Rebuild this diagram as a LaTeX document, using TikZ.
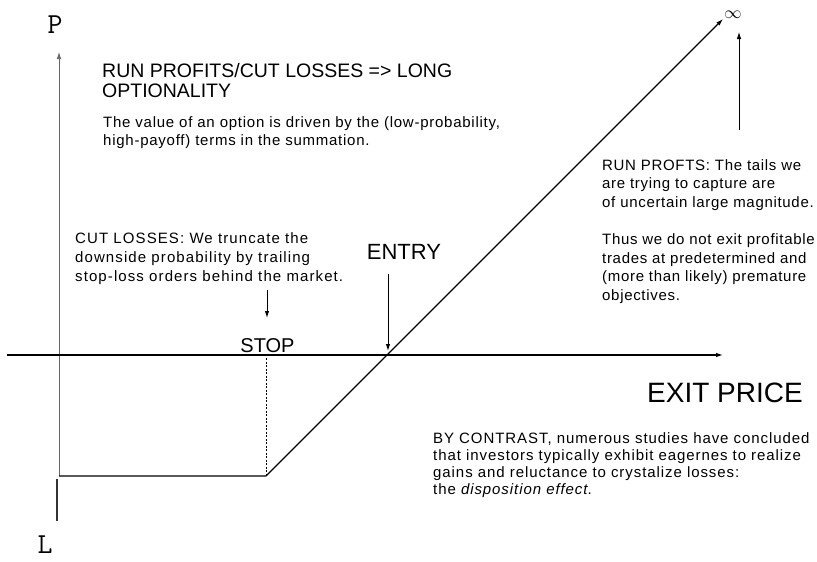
\documentclass[tikz,border=0pt]{standalone}
\usepackage{fontspec}
\setmainfont{Liberation Sans}
\usetikzlibrary{arrows.meta}
\begin{document}
\begin{tikzpicture}[x=1pt,y=-1pt,
  small/.style={anchor=north west, inner sep=0pt, align=left},
  head/.style={anchor=north west, inner sep=0pt, align=left, font=\fontsize{19.5}{20}\selectfont},
  big/.style={inner sep=0pt, anchor=base},
  axislbl/.style={inner sep=0pt, anchor=base, font=\ttfamily\fontsize{29}{29}\selectfont},
  tip/.style={-{Latex[length=7pt,width=4.5pt]}},
  payoff/.style={line width=1.1pt, line join=round}]
\useasboundingbox (0,0) rectangle (817,562);
% axes
\coordinate (ytop) at (59,52);
\coordinate (ybot) at (59,476);
\coordinate (ylow1) at (57,479);
\coordinate (ylow2) at (57,521);
\coordinate (xl) at (7,355);
\coordinate (xr) at (723,355);
\draw[tip, gray!80!black, line width=0.7pt] (ybot) -- (ytop);
\draw[line width=1.1pt, black!80] (ylow1) -- (ylow2);
\draw[tip, line width=1.1pt] (xl) -- (xr);
\node[axislbl] (P) at (55,33) {P};
\node[axislbl] (L) at (45,553) {L};
% payoff
\coordinate (floor0) at (59,476);
\coordinate (stopk) at (266,476);
\coordinate (stopax) at (266,358);
\coordinate (inf) at (723,19);
\draw[payoff, tip] (floor0) -- (stopk) -- (inf);
\draw[line width=0.8pt, dash pattern=on 2pt off 1.5pt] (stopax) -- (stopk);
\node[inner sep=0pt, anchor=base, font=\fontsize{18}{18}\selectfont] (infty) at (733,19) {$\infty$};
% labels
\node[big, font=\fontsize{20}{20}\selectfont] (stop) at (267.5,352) {STOP};
\node[big, font=\fontsize{22}{22}\selectfont] (entry) at (404,259) {ENTRY};
\node[inner sep=0pt, font=\fontsize{28}{28}\selectfont, anchor=base east] (exit) at (803,402) {EXIT PRICE};
% arrows
\coordinate (ea1) at (388,274);
\coordinate (ea2) at (388,351);
\draw[tip, line width=1pt] (ea1) -- (ea2);
\coordinate (sa1) at (267,290);
\coordinate (sa2) at (267,318);
\draw[tip, line width=1pt] (sa1) -- (sa2);
\coordinate (ua1) at (739,130);
\coordinate (ua2) at (739,32);
\draw[tip, line width=0.8pt] (ua1) -- (ua2);
% texts
\node[head] (h1) at (102,63) {RUN PROFITS/CUT LOSSES => LONG\\OPTIONALITY};
\node[small, font=\fontsize{15}{18}\selectfont\addfontfeatures{LetterSpace=5}] (h2) at (103,116) {The value of an option is driven by the (low-probability,\\high-payoff) terms in the summation.};
\node[small, font=\fontsize{15}{19}\selectfont\addfontfeatures{LetterSpace=7.3}] (cut) at (75,232) {CUT LOSSES: We truncate the\\downside probability by trailing\\stop-loss orders behind the market.};
\node[small, font=\fontsize{15}{18.6}\selectfont\addfontfeatures{LetterSpace=4.6}] (run) at (602,159) {RUN PROFTS: The tails we\\are trying to capture are\\of uncertain large magnitude.\\[18.6pt]Thus we do not exit profitable\\trades at predetermined and\\(more than likely) premature\\objectives.};
\node[small, font=\fontsize{15}{17}\selectfont\addfontfeatures{LetterSpace=6.2}] (contrast) at (433,432) {BY CONTRAST, numerous studies have concluded\\that investors typically exhibit eagernes to realize\\gains and reluctance to crystalize losses:\\the {\itshape disposition effect}.};
\end{tikzpicture}
\end{document}
